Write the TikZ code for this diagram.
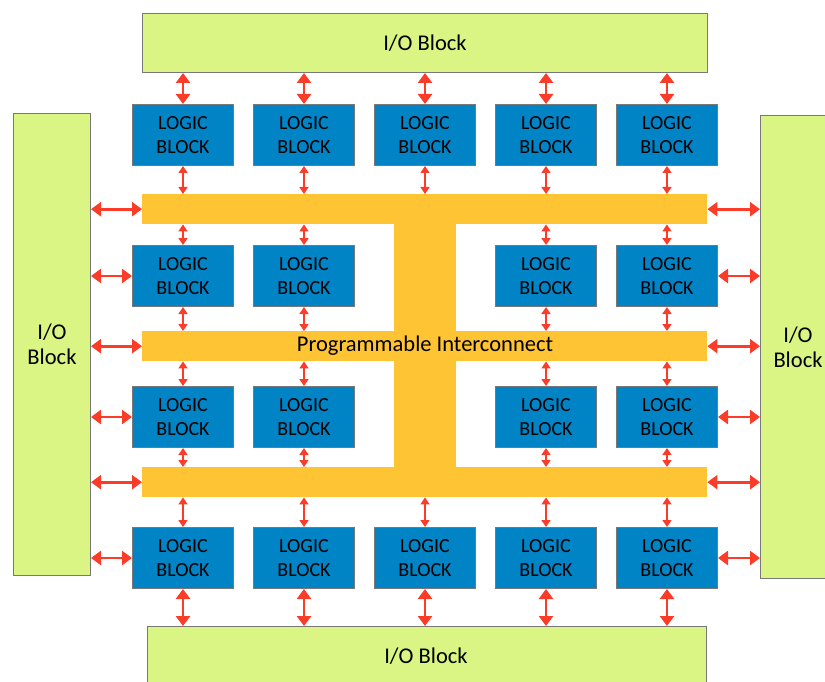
\documentclass[tikz,border=0pt]{standalone}
\usepackage{fontspec}
\setmainfont{Carlito}
\usetikzlibrary{arrows.meta}
\definecolor{iogreen}{RGB}{219,245,132}
\definecolor{logicblue}{RGB}{0,132,198}
\definecolor{busorange}{RGB}{255,196,52}
\definecolor{arrred}{RGB}{250,60,40}
\definecolor{edgegray}{RGB}{120,120,120}
\tikzset{
  bigtext/.style={font=\fontsize{22.5}{25}\selectfont},
  iobox/.style={draw=edgegray, line width=1pt, fill=iogreen, anchor=north west, inner sep=0pt, align=center, bigtext},
  logicbox/.style={draw=edgegray, line width=1pt, fill=logicblue, anchor=north west, inner sep=0pt, minimum width=101pt, minimum height=61pt, align=center, font=\fontsize{20}{23.5}\selectfont},
  busbar/.style={fill=busorange, anchor=north west, inner sep=0pt},
  bigarr/.style={draw=arrred, line width=2.6pt, {Triangle[length=10pt,width=14pt]}-{Triangle[length=10pt,width=14pt]}},
  smallarr/.style={draw=arrred, line width=1.4pt, {Triangle[length=7pt,width=9pt]}-{Triangle[length=7pt,width=9pt]}}
}
\begin{document}
\begin{tikzpicture}[x=1pt,y=-1pt]
\useasboundingbox (0,0) rectangle (825,682);
\clip (0,0) rectangle (825,682);
% I/O blocks
\node[iobox, minimum width=565pt, minimum height=59pt] (iot) at (142,13) {I/O Block};
\node[iobox, minimum width=559pt, minimum height=70pt] (iob) at (147,626) {};
\node[bigtext] (iobt) at (426,656) {I/O Block};
\node[iobox, minimum width=77pt, minimum height=462pt] (iol) at (13,113) {I/O\\Block};
\node[iobox, minimum width=80pt, minimum height=463pt] (ior) at (760,115) {};
\node[bigtext, align=center] (iort) at (798,347) {I/O\\Block};
% interconnect
\node[busbar, minimum width=565pt, minimum height=30pt] (b1) at (142,194) {};
\node[busbar, minimum width=565pt, minimum height=30pt] (b2) at (142,331) {};
\node[busbar, minimum width=565pt, minimum height=30pt] (b3) at (142,467) {};
\node[busbar, minimum width=62pt, minimum height=303pt] (tr) at (394,194) {};
\node[bigtext] (pit) at (425,346) {Programmable Interconnect};
% logic blocks
\foreach \c in {1,...,5}{
  \node[logicbox] (L1\c) at ({132+121*(\c-1)},104) {LOGIC\\BLOCK};
  \node[logicbox] (L4\c) at ({132+121*(\c-1)},527) {LOGIC\\BLOCK};
  \draw[bigarr] (L1\c.north) -- (L1\c.north |- iot.south);
  \draw[smallarr] (L1\c.south) -- (L1\c.south |- b1.north);
  \draw[smallarr] (L4\c.north) -- (L4\c.north |- b3.south);
  \draw[bigarr] (L4\c.south) -- (L4\c.south |- iob.north);
}
\foreach \c in {1,2,4,5}{
  \node[logicbox] (L2\c) at ({132+121*(\c-1)},245) {LOGIC\\BLOCK};
  \node[logicbox] (L3\c) at ({132+121*(\c-1)},386) {LOGIC\\BLOCK};
  \draw[smallarr] (L2\c.north) -- (L2\c.north |- b1.south);
  \draw[smallarr] (L2\c.south) -- (L2\c.south |- b2.north);
  \draw[smallarr] (L3\c.north) -- (L3\c.north |- b2.south);
  \draw[smallarr] (L3\c.south) -- (L3\c.south |- b3.north);
}
% horizontal arrows
\foreach \b in {b1,b2,b3}{
  \draw[bigarr] (iol.east |- \b.west) -- (\b.west);
  \draw[bigarr] (\b.east) -- (ior.west |- \b.east);
}
\foreach \r in {2,3,4}{
  \draw[bigarr] (iol.east |- L\r1.west) -- (L\r1.west);
  \draw[bigarr] (L\r5.east) -- (ior.west |- L\r5.east);
}
\end{tikzpicture}
\end{document}
